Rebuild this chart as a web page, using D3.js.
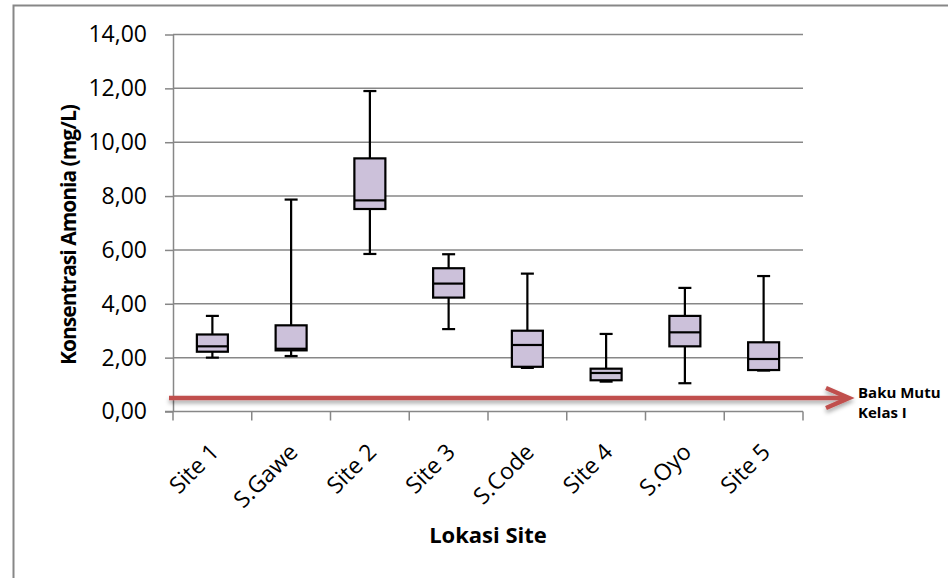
<!DOCTYPE html>
<html>
<head>
<meta charset="utf-8">
<script src="https://cdn.jsdelivr.net/npm/d3@7"></script>
<style>
  html, body { margin: 0; padding: 0; background: #fff; }
  svg { display: block; }
  text { font-family: "Open Sans", "DejaVu Sans", sans-serif; fill: #000; }
</style>
</head>
<body>
<svg id="chart" width="948" height="578"></svg>
<script>
// Ammonia concentration per site (mg/L): whisker ends, quartiles and median
const sites   = ["Site 1", "S.Gawe", "Site 2", "Site 3", "S.Code", "Site 4", "S.Oyo", "Site 5"];
const minVals = [2.00, 2.06, 5.85, 3.06, 1.62, 1.11, 1.05, 1.52];
const q1Vals  = [2.22, 2.27, 7.52, 4.23, 1.66, 1.16, 2.42, 1.54];
const medVals = [2.42, 2.33, 7.84, 4.75, 2.47, 1.43, 2.94, 1.95];
const q3Vals  = [2.86, 3.20, 9.40, 5.32, 3.00, 1.59, 3.55, 2.57];
const maxVals = [3.55, 7.87, 11.90, 5.84, 5.12, 2.88, 4.59, 5.03];
const yTicks  = [0, 2, 4, 6, 8, 10, 12, 14];
const standardLimit = 0.5;   // Baku Mutu Kelas I
const yTitle = "Konsentrasi Amonia (mg/L)";
const xTitle = "Lokasi Site";
const limitLabel = ["Baku Mutu", "Kelas I"];

const rows = sites.map((s, i) => ({
  site: s, min: minVals[i], q1: q1Vals[i], med: medVals[i], q3: q3Vals[i], max: maxVals[i]
}));

const svg = d3.select("#chart");
const plot = { left: 173, right: 803, top: 34.5, bottom: 411.5 };

const x = d3.scaleBand().domain(sites).range([plot.left, plot.right]).paddingInner(0).paddingOuter(0);
const y = d3.scaleLinear().domain([0, 14]).range([plot.bottom, plot.top]);
const locale = d3.formatLocale({ decimal: ",", thousands: ".", grouping: [3], currency: ["", ""] });
const fmt = locale.format(".2f");

const grid = "#878787";

// chart frame
svg.append("rect")
  .attr("x", 13.5).attr("y", 5.5).attr("width", 1000).attr("height", 1000)
  .attr("fill", "none").attr("stroke", grid).attr("stroke-width", 2);

// horizontal gridlines
svg.append("g").selectAll("line").data(yTicks.filter(d => d > 0)).join("line")
  .attr("x1", plot.left).attr("x2", plot.right)
  .attr("y1", d => y(d)).attr("y2", d => y(d))
  .attr("stroke", grid).attr("stroke-width", 1.5);

// y axis
const yAxis = svg.append("g").attr("transform", `translate(${plot.left},0)`)
  .call(d3.axisLeft(y).tickValues(yTicks).tickFormat(fmt).tickSize(8).tickSizeOuter(0).tickPadding(18));
yAxis.select(".domain").attr("stroke", grid).attr("stroke-width", 1.5);
yAxis.selectAll(".tick line").attr("stroke", grid).attr("stroke-width", 1.5);
yAxis.selectAll(".tick text").style("font-size", "23px").attr("fill", "#000");

// x axis line and boundary ticks
const xg = svg.append("g");
xg.append("line").attr("x1", plot.left - 8).attr("x2", plot.right)
  .attr("y1", y(0)).attr("y2", y(0)).attr("stroke", grid).attr("stroke-width", 1.5);
const bounds = sites.map(s => x(s)).concat([x(sites[sites.length - 1]) + x.bandwidth()]);
xg.selectAll("line.tk").data(bounds).join("line").attr("class", "tk")
  .attr("x1", d => d).attr("x2", d => d)
  .attr("y1", y(0)).attr("y2", y(0) + 9)
  .attr("stroke", grid).attr("stroke-width", 1.5);
xg.selectAll("text").data(sites).join("text")
  .attr("transform", d => `translate(${x(d) + x.bandwidth() / 2 + 8},${y(0) + 42}) rotate(-45)`)
  .attr("text-anchor", "end")
  .style("font-size", "23px")
  .text(d => d);

// box plots
const boxW = 31, capW = 13;
const boxes = svg.append("g").selectAll("g").data(rows).join("g")
  .attr("transform", d => `translate(${x(d.site) + x.bandwidth() / 2},0)`);
boxes.append("line").attr("x1", 0).attr("x2", 0)
  .attr("y1", d => y(d.max)).attr("y2", d => y(d.q3)).attr("stroke", "#000").attr("stroke-width", 2.2);
boxes.append("line").attr("x1", 0).attr("x2", 0)
  .attr("y1", d => y(d.q1)).attr("y2", d => y(d.min)).attr("stroke", "#000").attr("stroke-width", 2.2);
boxes.append("line").attr("x1", -capW / 2).attr("x2", capW / 2)
  .attr("y1", d => y(d.max)).attr("y2", d => y(d.max)).attr("stroke", "#000").attr("stroke-width", 2.2);
boxes.append("line").attr("x1", -capW / 2).attr("x2", capW / 2)
  .attr("y1", d => y(d.min)).attr("y2", d => y(d.min)).attr("stroke", "#000").attr("stroke-width", 2.2);
boxes.append("rect")
  .attr("x", -boxW / 2).attr("width", boxW)
  .attr("y", d => y(d.q3)).attr("height", d => y(d.q1) - y(d.q3))
  .attr("fill", "#CCC1DA").attr("stroke", "#000").attr("stroke-width", 2.2);
boxes.append("line").attr("x1", -boxW / 2).attr("x2", boxW / 2)
  .attr("y1", d => y(d.med)).attr("y2", d => y(d.med)).attr("stroke", "#000").attr("stroke-width", 2.2);

// standard limit arrow with soft shadow
const defs = svg.append("defs");
const f = defs.append("filter").attr("id", "shadow").attr("x", "-10%").attr("y", "-200%").attr("width", "120%").attr("height", "500%");
f.append("feDropShadow").attr("dx", 0).attr("dy", 3).attr("stdDeviation", 2)
  .attr("flood-color", "#000").attr("flood-opacity", 0.35);

const yl = y(standardLimit);
const tipX = 849;
const arrow = svg.append("g").attr("filter", "url(#shadow)");
arrow.append("line").attr("x1", 169).attr("x2", tipX - 2)
  .attr("y1", yl).attr("y2", yl).attr("stroke", "#C0504D").attr("stroke-width", 4.5);
arrow.append("path")
  .attr("d", `M${tipX - 23},${yl - 10} L${tipX},${yl} L${tipX - 23},${yl + 10}`)
  .attr("fill", "none").attr("stroke", "#C0504D").attr("stroke-width", 4.5)
  .attr("stroke-linejoin", "miter").attr("stroke-linecap", "butt");

svg.append("g").selectAll("text").data(limitLabel).join("text")
  .attr("x", 858).attr("y", (d, i) => 398 + i * 20)
  .style("font-size", "15px").style("font-weight", "bold")
  .text(d => d);

// axis titles
svg.append("text")
  .attr("transform", `translate(76,${(plot.top + plot.bottom) / 2 + 12}) rotate(-90)`)
  .attr("text-anchor", "middle")
  .style("font-size", "21px").style("font-weight", "bold").style("letter-spacing", "-1px")
  .text(yTitle);
svg.append("text")
  .attr("x", 488).attr("y", 543)
  .attr("text-anchor", "middle")
  .style("font-size", "22px").style("font-weight", "bold")
  .text(xTitle);
</script>
</body>
</html>
